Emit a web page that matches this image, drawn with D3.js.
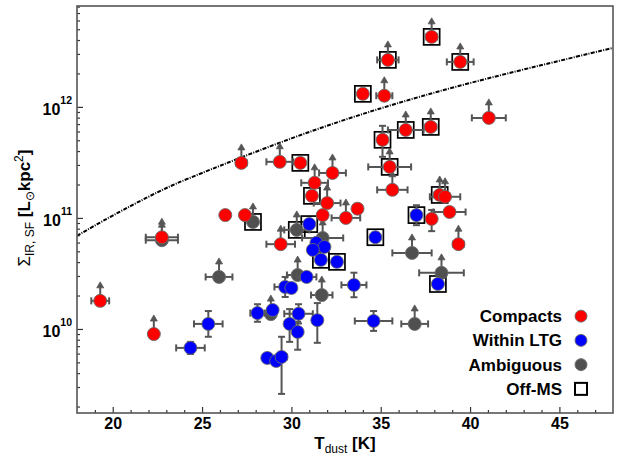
<!DOCTYPE html>
<html>
<head>
<meta charset="utf-8">
<script src="https://cdn.jsdelivr.net/npm/d3@7"></script>
<style>
  body { margin: 0; background: #fff; }
  text { font-family: "Liberation Sans", Arial, sans-serif; }
</style>
</head>
<body>
<svg id="chart" width="622" height="455"></svg>
<script>
// rows: [T_dust (K), Sigma_IR,SF, T err, Sigma err minus, Sigma err plus, lower limit, off-MS]
const compacts = [
  [19.3, 1.79e10, 0.5, 0, 0, 1, 0],
  [22.3, 9.0e9, 0, 0, 0, 1, 0],
  [22.75, 6.7e10, 0.9, 0, 0, 1, 0],
  [26.3, 1.06e11, 0, 0, 0, 0, 0],
  [27.4, 1.06e11, 0, 0, 0, 0, 0],
  [27.2, 3.13e11, 0.3, 0, 0, 1, 0],
  [29.35, 3.2e11, 0.75, 0, 0, 1, 0],
  [30.5, 3.13e11, 0, 0, 0, 0, 1],
  [29.4, 5.8e10, 0.8, 0, 0, 1, 0],
  [31.3, 2.07e11, 0.75, 0, 0, 1, 0],
  [31.15, 1.58e11, 0, 0, 0, 0, 1],
  [32.3, 2.54e11, 0.75, 0, 0, 1, 0],
  [32.0, 1.36e11, 0.75, 0, 0, 1, 0],
  [31.75, 1.06e11, 0, 0, 0, 0, 0],
  [33.05, 1.0e11, 0.8, 0, 0, 1, 0],
  [33.7, 1.21e11, 0, 0, 0, 0, 0],
  [37.85, 4.27e12, 0.3, 0, 0, 1, 1],
  [35.4, 2.65e12, 0.6, 0, 0, 1, 1],
  [39.45, 2.54e12, 0.75, 0, 0, 1, 1],
  [34.0, 1.31e12, 0, 0, 0, 0, 1],
  [35.2, 1.26e12, 0.45, 0, 0, 1, 0],
  [41.05, 7.96e11, 0.95, 0, 0, 1, 0],
  [36.4, 6.2e11, 1.0, 0, 0, 1, 1],
  [37.8, 6.6e11, 0.3, 0, 0, 1, 1],
  [35.1, 5.05e11, 0, 1.5e11, 1.7e11, 0, 1],
  [35.5, 2.88e11, 1.2, 0, 0, 1, 1],
  [35.65, 1.79e11, 0.85, 0, 0, 1, 0],
  [38.3, 1.61e11, 0.3, 0, 0, 1, 1],
  [38.6, 1.55e11, 0.85, 0, 0, 1, 0],
  [38.85, 1.13e11, 0.9, 0, 0, 0, 0],
  [37.85, 9.8e10, 0, 2.2e10, 2.0e10, 0, 0],
  [39.35, 5.8e10, 0.3, 0, 0, 1, 0]
];

const withinLTG = [
  [31.0, 8.8e10, 0, 0, 0, 0, 1],
  [31.4, 5.96e10, 0, 0, 0, 0, 0],
  [31.85, 5.48e10, 0, 0, 0, 0, 0],
  [31.2, 5.15e10, 0, 0, 0, 0, 0],
  [31.65, 4.19e10, 0, 0, 0, 0, 1],
  [32.55, 4.02e10, 0, 0, 0, 0, 1],
  [34.7, 6.7e10, 0, 0, 0, 0, 1],
  [37.0, 1.06e11, 0, 2.0e10, 2.4e10, 0, 1],
  [38.2, 2.54e10, 0, 0, 0, 0, 1],
  [30.85, 2.94e10, 0.55, 0, 0, 0, 0],
  [29.65, 2.39e10, 0.6, 4.5e9, 5.5e9, 0, 0],
  [30.0, 2.34e10, 0, 0, 0, 0, 0],
  [33.5, 2.49e10, 0.7, 5.6e9, 7.2e9, 0, 0],
  [28.1, 1.39e10, 0.4, 2.3e9, 2.8e9, 0, 0],
  [28.95, 1.48e10, 0, 0, 0, 0, 0],
  [30.4, 1.37e10, 0.8, 2.5e9, 3.0e9, 0, 0],
  [29.9, 1.11e10, 0, 3.45e9, 4.0e9, 0, 0],
  [30.35, 9.4e9, 0, 2.9e9, 2.2e9, 0, 0],
  [31.45, 1.2e10, 0, 4.5e9, 5.1e9, 0, 0],
  [34.6, 1.18e10, 1.05, 2.2e9, 2.7e9, 0, 0],
  [25.35, 1.11e10, 0.8, 2.6e9, 3.4e9, 0, 0],
  [24.35, 6.75e9, 0.8, 8e8, 9e8, 0, 0],
  [28.65, 5.48e9, 0, 0, 0, 0, 0],
  [29.15, 5.15e9, 0, 0, 0, 0, 0],
  [29.45, 5.6e9, 0.3, 3.0e9, 2.9e9, 0, 0]
];

const ambiguous = [
  [27.85, 9.2e10, 0, 0, 0, 1, 1],
  [30.3, 7.8e10, 0.7, 0, 0, 1, 1],
  [31.75, 6.6e10, 1.15, 0, 0, 1, 0],
  [25.95, 2.94e10, 0.75, 0, 0, 1, 0],
  [30.35, 3.06e10, 0.6, 0, 0, 1, 0],
  [31.7, 2.02e10, 0.6, 0, 0, 1, 0],
  [28.85, 1.36e10, 0, 0, 0, 1, 0],
  [36.75, 4.84e10, 1.1, 0, 0, 1, 0],
  [38.4, 3.2e10, 1.25, 0, 0, 1, 0],
  [36.9, 1.11e10, 0.75, 0, 0, 1, 0],
  [22.75, 6.3e10, 0.9, 0, 0, 1, 0]
];

// dashed reference curve
const refLineT = [18, 20, 22.5, 25, 30, 35, 40, 45, 48];
const refLineS = [6.9e10, 1.05e11, 1.7e11, 2.54e11, 5.2e11, 9.7e11, 1.64e12, 2.6e12, 3.4e12];

const xTicks = [20, 25, 30, 35, 40, 45];
const yTicks = [1e10, 1e11, 1e12];
const legendLabels = ["Compacts", "Within LTG", "Ambiguous", "Off-MS"];
const groupColors = ["#ff0000", "#0000ff", "#505050"];

const svg = d3.select("#chart");
const L = 77, R = 613, T = 6, B = 413;
const x = d3.scaleLinear().domain([18, 48]).range([L, R]);
const y = d3.scaleLog().domain([1.75e9, 8.1e12]).range([B, T]);
const errColor = "#555";

svg.append("clipPath").attr("id", "plotclip")
  .append("rect").attr("x", L).attr("y", T).attr("width", R - L).attr("height", B - T);

// reference line
svg.append("path")
  .datum(d3.zip(refLineT, refLineS))
  .attr("clip-path", "url(#plotclip)")
  .attr("fill", "none")
  .attr("stroke", "#000")
  .attr("stroke-width", 2)
  .attr("stroke-dasharray", "4,1.3,1,1.3")
  .attr("d", d3.line().x(d => x(d[0])).y(d => y(d[1])).curve(d3.curveNatural));

// off-MS squares underneath everything
const allRows = ambiguous.concat(withinLTG, compacts);
svg.append("g").selectAll("rect")
  .data(allRows.filter(d => d[6]))
  .join("rect")
  .attr("x", d => x(d[0]) - 8)
  .attr("y", d => y(d[1]) - 8)
  .attr("width", 16).attr("height", 16)
  .attr("fill", "none")
  .attr("stroke", "#000")
  .attr("stroke-width", 1.7);

function drawGroup(rows, color) {
  const g = svg.append("g");
  const eb = g.append("g").attr("stroke", errColor).attr("stroke-width", 2).attr("fill", "none");
  rows.forEach(d => {
    const [t, s, dt, sLo, sHi, lim] = d;
    const cx = x(t), cy = y(s);
    if (dt > 0) {
      const x0 = x(t - dt), x1 = x(t + dt);
      eb.append("line").attr("x1", x0).attr("x2", x1).attr("y1", cy).attr("y2", cy);
      eb.append("line").attr("x1", x0).attr("x2", x0).attr("y1", cy - 3.5).attr("y2", cy + 3.5);
      eb.append("line").attr("x1", x1).attr("x2", x1).attr("y1", cy - 3.5).attr("y2", cy + 3.5);
    }
    if (sLo > 0 || sHi > 0) {
      const y0 = y(s - sLo), y1 = y(s + sHi);
      eb.append("line").attr("x1", cx).attr("x2", cx).attr("y1", y0).attr("y2", y1);
      eb.append("line").attr("x1", cx - 3.5).attr("x2", cx + 3.5).attr("y1", y0).attr("y2", y0);
      eb.append("line").attr("x1", cx - 3.5).attr("x2", cx + 3.5).attr("y1", y1).attr("y2", y1);
    }
    if (lim) {
      eb.append("line").attr("x1", cx).attr("x2", cx).attr("y1", cy).attr("y2", cy - 15);
      eb.append("path")
        .attr("d", `M${cx - 3.5},${cy - 13}L${cx},${cy - 19}L${cx + 3.5},${cy - 13}Z`)
        .attr("fill", errColor).attr("stroke", errColor).attr("stroke-width", 0.8);
    }
  });
  g.append("g").selectAll("circle")
    .data(rows)
    .join("circle")
    .attr("cx", d => x(d[0]))
    .attr("cy", d => y(d[1]))
    .attr("r", 6.5)
    .attr("fill", color)
    .attr("stroke", "#6a6a6a")
    .attr("stroke-width", 0.9);
}

drawGroup(ambiguous, groupColors[2]);
drawGroup(withinLTG, groupColors[1]);
drawGroup(compacts, groupColors[0]);

// axes
const xg = svg.append("g").attr("transform", `translate(0,${B})`)
  .call(d3.axisBottom(x).tickValues(xTicks).tickSizeInner(-6).tickSizeOuter(0).tickPadding(5));
const xMinor = d3.range(19, 48).filter(v => v % 5 !== 0);
svg.append("g").attr("transform", `translate(0,${B})`)
  .call(d3.axisBottom(x).tickValues(xMinor).tickSizeInner(-3).tickSizeOuter(0).tickFormat(""));

const yg = svg.append("g").attr("transform", `translate(${L},0)`)
  .call(d3.axisLeft(y).tickValues(yTicks).tickSizeInner(-6).tickSizeOuter(0).tickPadding(5));
const yMinor = [];
[9, 10, 11, 12].forEach(e => { for (let k = 2; k <= 9; k++) { const v = k * Math.pow(10, e); if (v > 1.75e9 && v < 8.1e12) yMinor.push(v); } });
svg.append("g").attr("transform", `translate(${L},0)`)
  .call(d3.axisLeft(y).tickValues(yMinor).tickSizeInner(-3).tickSizeOuter(0).tickFormat(""));

svg.selectAll(".domain").remove();
svg.selectAll(".tick line").attr("stroke", "#333").attr("stroke-width", 1.2);

xg.selectAll(".tick text")
  .attr("font-size", "16px").attr("font-weight", "bold").attr("fill", "#000")
  .attr("font-family", '"Liberation Sans", Arial, sans-serif');

yg.selectAll(".tick text").each(function(d) {
  const t = d3.select(this);
  t.text(null).attr("dy", "0.5em")
    .attr("font-size", "16px").attr("font-weight", "bold").attr("fill", "#000")
    .attr("font-family", '"Liberation Sans", Arial, sans-serif');
  t.append("tspan").text("10");
  t.append("tspan").attr("dy", "-11").attr("font-size", "10.5px").text(Math.round(Math.log10(d)));
});

// frame
svg.append("rect").attr("x", L).attr("y", T).attr("width", R - L).attr("height", B - T)
  .attr("fill", "none").attr("stroke", "#555").attr("stroke-width", 1.6);

// axis labels
const xl = svg.append("text").attr("x", 345).attr("y", 449).attr("text-anchor", "middle")
  .attr("font-size", "17px");
xl.append("tspan").attr("font-weight", "bold").text("T");
xl.append("tspan").attr("font-size", "12px").attr("dy", 4).text("dust");
xl.append("tspan").attr("font-weight", "bold").attr("dy", -4).text(" [K]");

const yl = svg.append("text").attr("transform", "translate(30,208) rotate(-90)")
  .attr("text-anchor", "middle").attr("font-size", "17px");
yl.append("tspan").text("Σ");
yl.append("tspan").attr("font-size", "12px").attr("dy", 4).text("IR, SF");
yl.append("tspan").attr("font-weight", "bold").attr("dy", -4).text(" [L");
yl.append("tspan").attr("font-size", "12px").attr("dy", 4).text("⊙");
yl.append("tspan").attr("font-weight", "bold").attr("dy", -4).text("kpc");
yl.append("tspan").attr("font-size", "12px").attr("dy", -7).text("2");
yl.append("tspan").attr("font-weight", "bold").attr("dy", 7).text("]");

// legend
const legY = d3.scaleBand().domain(legendLabels).range([304, 401]);
const leg = svg.append("g").selectAll("g").data(legendLabels).join("g")
  .attr("transform", d => `translate(0,${legY(d) + legY.bandwidth() / 2})`);
leg.append("text").attr("x", 562).attr("dy", "0.35em").attr("text-anchor", "end")
  .attr("font-size", "17px").attr("font-weight", "bold").text(d => d);
leg.filter((d, i) => i < 3).append("circle")
  .attr("cx", 581).attr("r", 6)
  .attr("fill", (d, i) => groupColors[i]).attr("stroke", "#6a6a6a").attr("stroke-width", 0.9);
leg.filter((d, i) => i === 3).append("rect")
  .attr("x", 575).attr("y", -6).attr("width", 12).attr("height", 12)
  .attr("fill", "none").attr("stroke", "#000").attr("stroke-width", 2);
</script>
</body>
</html>
